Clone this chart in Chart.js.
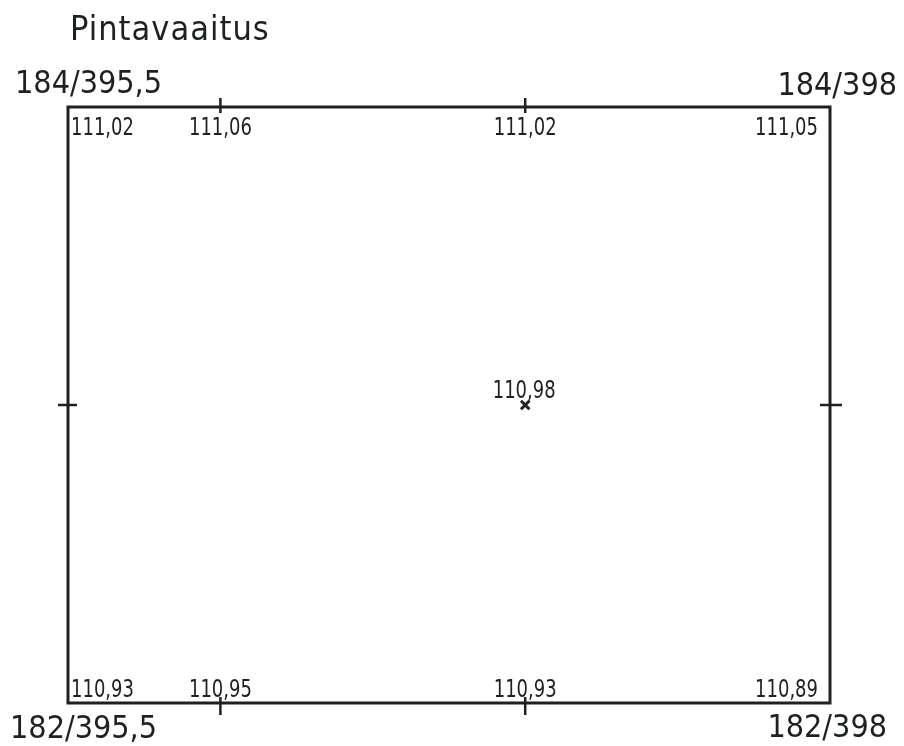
<!DOCTYPE html>
<html>
<head>
<meta charset="utf-8">
<title>Pintavaaitus</title>
<script src="https://cdn.jsdelivr.net/npm/chart.js@4.4.4/dist/chart.umd.min.js"></script>
<style>
  html, body { margin: 0; padding: 0; background: #fff; }
  canvas { display: block; }
</style>
</head>
<body>
<canvas id="c" width="904" height="746"></canvas>
<script>
// Surface levelling of a 2.5 x 2 grid cell. Easting along x, northing along y,
// ground levels (m) written next to each measured point.

const titleText = 'Pintavaaitus';
const eastings = [395.5, 396, 397, 398];
const northTop = 184;
const northBottom = 182;
const topLevels = [111.02, 111.06, 111.02, 111.05];
const bottomLevels = [110.93, 110.95, 110.93, 110.89];
const centerPoint = { x: 397, y: 183, level: 110.98 };
const edgeTicksX = [396, 397];
const edgeTicksY = [183];

const INK = '#1d221e';
const fmt = (v, d) => v.toFixed(d).replace('.', ',');
const fmtCoord = (v) => (Number.isInteger(v) ? String(v) : fmt(v, 1));

const borderPoints = [
  ...eastings.map((x, i) => ({ x, y: northTop, level: topLevels[i] })),
  ...eastings.map((x, i) => ({ x, y: northBottom, level: bottomLevels[i] })),
];

const xMin = Math.min(...eastings), xMax = Math.max(...eastings);

// narrow lettering: condensed font squeezed a bit more horizontally
function narrowText(ctx, text, x, y) {
  ctx.save();
  ctx.translate(x, y);
  ctx.scale(0.8, 1);
  ctx.fillText(text, 0, 0);
  ctx.restore();
}

// Frame, edge ticks, level labels, corner coordinates and title.
const sheetPlugin = {
  id: 'sheet',
  afterDatasetsDraw(chart) {
    const { ctx, chartArea: a, scales } = chart;
    const sx = scales.x, sy = scales.y;
    ctx.save();
    ctx.strokeStyle = INK;
    ctx.fillStyle = INK;
    ctx.lineWidth = 3;
    ctx.lineCap = 'square';
    ctx.strokeRect(a.left, a.top, a.right - a.left, a.bottom - a.top);

    ctx.lineWidth = 2.5;
    ctx.lineCap = 'butt';
    ctx.beginPath();
    for (const t of edgeTicksX) {
      const px = sx.getPixelForValue(t);
      ctx.moveTo(px, a.top - 9); ctx.lineTo(px, a.top + 6);
      ctx.moveTo(px, a.bottom - 6); ctx.lineTo(px, a.bottom + 12);
    }
    for (const t of edgeTicksY) {
      const py = sy.getPixelForValue(t);
      ctx.moveTo(a.left - 10, py); ctx.lineTo(a.left + 9, py);
      ctx.moveTo(a.right - 10, py); ctx.lineTo(a.right + 12, py);
    }
    ctx.stroke();

    // level values
    ctx.font = '25px "DejaVu Sans Condensed", sans-serif';
    for (const p of borderPoints) {
      const px = sx.getPixelForValue(p.x);
      const py = sy.getPixelForValue(p.y);
      let x = px;
      if (p.x === xMin) { ctx.textAlign = 'left'; x = px + 3; }
      else if (p.x === xMax) { ctx.textAlign = 'right'; x = px - 12; }
      else ctx.textAlign = 'center';
      const y = p.y === northTop ? py + 28 : py - 6;
      narrowText(ctx, fmt(p.level, 2), x, y);
    }
    ctx.textAlign = 'center';
    narrowText(ctx, fmt(centerPoint.level, 2),
      sx.getPixelForValue(centerPoint.x) - 1, sy.getPixelForValue(centerPoint.y) - 7);

    // corner coordinates N/E
    ctx.font = '32px "DejaVu Sans Condensed", sans-serif';
    for (const p of borderPoints) {
      if (p.x !== xMin && p.x !== xMax) continue;
      const px = sx.getPixelForValue(p.x);
      const py = sy.getPixelForValue(p.y);
      const text = `${fmtCoord(p.y)}/${fmtCoord(p.x)}`;
      const top = p.y === northTop;
      if (p.x === xMin) { ctx.textAlign = 'left'; ctx.fillText(text, px - (top ? 53 : 58), top ? py - 14 : py + 35); }
      else { ctx.textAlign = 'right'; ctx.fillText(text, px + (top ? 67 : 57), top ? py - 12 : py + 34); }
    }

    ctx.textAlign = 'left';
    ctx.font = '34px "DejaVu Sans Condensed", sans-serif';
    ctx.letterSpacing = '1px';
    ctx.fillText(titleText, a.left + 2, 40);
    ctx.restore();
  },
};

new Chart(document.getElementById('c'), {
  type: 'scatter',
  data: {
    datasets: [
      { label: 'Reunapisteet', data: borderPoints, pointRadius: 0 },
      {
        label: 'Keskipiste', data: [centerPoint],
        pointStyle: 'crossRot', pointRadius: 6, borderWidth: 3, borderColor: INK,
      },
    ],
  },
  options: {
    responsive: false,
    animation: false,
    devicePixelRatio: 1,
    layout: { padding: { left: 68, right: 74, top: 107, bottom: 43 } },
    plugins: { legend: { display: false }, tooltip: { enabled: false } },
    scales: {
      x: { type: 'linear', min: xMin, max: xMax, display: false },
      y: { type: 'linear', min: northBottom, max: northTop, display: false },
    },
  },
  plugins: [sheetPlugin],
});
</script>
</body>
</html>
